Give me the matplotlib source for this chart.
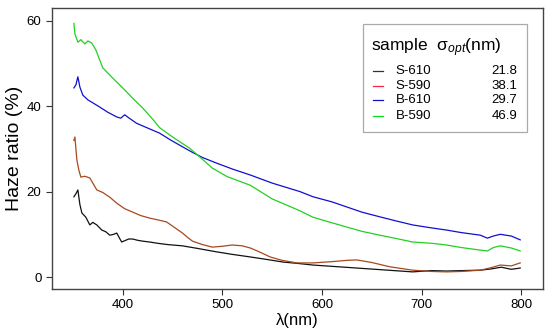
import matplotlib
matplotlib.use("Agg")
import matplotlib.pyplot as plt
from matplotlib.patches import Rectangle

plt.rcParams['font.family'] = ['Liberation Sans', 'DejaVu Sans']
plt.rcParams['mathtext.fontset'] = 'custom'
plt.rcParams['mathtext.rm'] = 'Liberation Sans'
plt.rcParams['mathtext.it'] = 'Liberation Sans:italic'

# Data
samples = ['S-610', 'S-590', 'B-610', 'B-590']
sigma_opt = ['21.8', '38.1', '29.7', '46.9']
colors = ['#111111', '#a8481e', '#1010d0', '#22d022']
legend_colors = ['#333333', '#ff2040', '#1010c0', '#00e020']

wl_s610 = [351, 353, 355, 357, 359, 363, 367, 370, 374, 379, 383, 387, 391, 394, 397, 399, 403,
           406, 410, 415, 420, 427, 435, 445, 460, 475, 494, 510, 528, 545, 561, 575, 591, 610,
           635, 660, 691, 710, 725, 740, 759, 770, 780, 790, 799]
hz_s610 = [18.8, 19.5, 20.4, 17.0, 15.0, 14.0, 12.2, 12.8, 12.2, 11.0, 10.6, 9.8, 10.0, 10.3, 9.0,
           8.2, 8.6, 8.9, 8.9, 8.6, 8.4, 8.2, 7.9, 7.6, 7.3, 6.7, 5.9, 5.3, 4.7, 4.1, 3.5, 3.2, 2.8,
           2.5, 2.1, 1.7, 1.2, 1.5, 1.4, 1.5, 1.6, 1.9, 2.3, 1.8, 2.1]

wl_s590 = [351, 352, 354, 356, 358, 362, 367, 371, 374, 380, 387, 394, 402, 410, 418, 427, 435,
           444, 452, 460, 465, 470, 480, 490, 500, 510, 520, 528, 538, 548, 560, 575, 591, 610,
           625, 635, 650, 668, 691, 710, 725, 740, 759, 770, 779, 790, 799]
hz_s590 = [32.0, 32.8, 27.4, 25.0, 23.4, 23.6, 23.2, 21.6, 20.4, 19.8, 18.7, 17.3, 16.0, 15.2,
           14.4, 13.8, 13.4, 12.9, 11.6, 10.3, 9.3, 8.4, 7.6, 7.0, 7.2, 7.5, 7.3, 6.8, 5.8, 4.7,
           3.9, 3.3, 3.3, 3.6, 3.9, 4.0, 3.4, 2.4, 1.6, 1.3, 1.2, 1.3, 1.6, 2.2, 2.8, 2.6, 3.3]

wl_b610 = [351, 353, 355, 357, 360, 365, 370, 377, 385, 394, 398, 402, 406, 414, 425, 437, 448,
           460, 470, 480, 494, 510, 528, 550, 578, 591, 610, 625, 640, 658, 675, 691, 710, 725,
           740, 759, 766, 772, 779, 790, 799]
hz_b610 = [44.3, 45.0, 46.9, 44.5, 42.6, 41.5, 40.8, 39.8, 38.6, 37.5, 37.2, 38.0, 37.3, 36.0,
           34.9, 33.7, 32.1, 30.5, 29.2, 28.0, 26.7, 25.3, 23.9, 22.0, 20.0, 18.8, 17.6, 16.4,
           15.2, 14.1, 13.1, 12.2, 11.5, 11.0, 10.4, 9.8, 9.1, 9.6, 10.0, 9.6, 8.7]

wl_b590 = [351, 352, 355, 358, 362, 365, 369, 373, 380, 390, 400, 410, 420, 430, 437, 450, 467,
           478, 490, 505, 528, 550, 578, 591, 610, 625, 640, 658, 675, 691, 710, 725, 740, 759,
           766, 772, 779, 790, 799]
hz_b590 = [59.4, 57.0, 55.0, 55.6, 54.6, 55.3, 54.8, 53.2, 49.0, 46.6, 44.3, 41.9, 39.6, 37.0,
           35.0, 32.8, 30.2, 28.0, 25.5, 23.5, 21.5, 18.3, 15.5, 14.0, 12.7, 11.7, 10.7, 9.8, 9.0,
           8.2, 7.9, 7.5, 6.9, 6.3, 6.1, 6.9, 7.3, 6.8, 6.1]

fig = plt.figure(figsize=(5.5, 3.36), dpi=100)
ax = fig.add_axes([0.0945, 0.14, 0.893, 0.836])

ax.plot(wl_s610, hz_s610, color=colors[0], lw=0.9)
ax.plot(wl_s590, hz_s590, color=colors[1], lw=0.9)
ax.plot(wl_b610, hz_b610, color=colors[2], lw=0.9)
ax.plot(wl_b590, hz_b590, color=colors[3], lw=0.9)

ax.set_xlim(329, 822)
ax.set_ylim(-2.8, 63)
ax.set_xticks([400, 500, 600, 700, 800])
ax.set_yticks([0, 20, 40, 60])
ax.tick_params(direction='out', length=4, width=0.8, colors='#333333', labelsize=9.5,
               labelcolor='black')
for s in ax.spines.values():
    s.set_color('#444444')
    s.set_linewidth(1.0)
ax.set_xlabel('λ(nm)', fontsize=12, labelpad=1)
ax.set_ylabel('Haze ratio (%)', fontsize=14, labelpad=3)

# Legend box with two columns
ax.add_patch(Rectangle((0.633, 0.559), 0.334, 0.384, transform=ax.transAxes,
                       fill=False, edgecolor='#aaaaaa', lw=0.9))
ax.text(0.650, 0.86, r'sample  $\mathrm{\sigma}_{\mathit{opt}}$(nm)', transform=ax.transAxes,
        fontsize=12.5, va='center', ha='left')
ys = [0.775, 0.722, 0.672, 0.615]
for i in range(4):
    ax.plot([0.654, 0.673], [ys[i], ys[i]], color=legend_colors[i], lw=0.9,
            transform=ax.transAxes)
    ax.text(0.700, ys[i], samples[i], transform=ax.transAxes, fontsize=9.5, va='center')
    ax.text(0.947, ys[i], sigma_opt[i], transform=ax.transAxes, fontsize=9.5,
            va='center', ha='right')

fig.savefig('out.png', dpi=100)
